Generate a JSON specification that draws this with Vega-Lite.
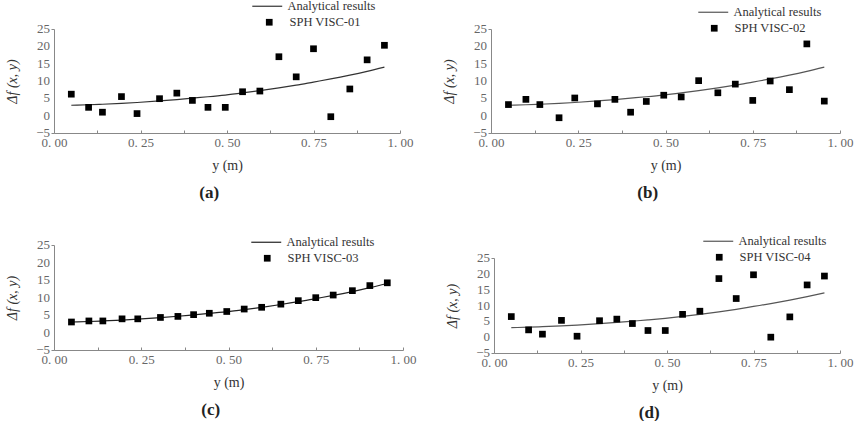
{
  "$schema": "https://vega.github.io/schema/vega-lite/v6.json",
  "background": "white",
  "padding": {"left": 5, "top": 0, "right": 2, "bottom": 0},
  "datasets": {
    "ylab": [
      {"v": -5, "t": "−5"}, {"v": 0, "t": "0"}, {"v": 5, "t": "5"}, {"v": 10, "t": "10"},
      {"v": 15, "t": "15"}, {"v": 20, "t": "20"}, {"v": 25, "t": "25"}
    ],
    "analytic": [
      {"x": 0.05, "f": 3.0}, {"x": 0.1, "f": 3.15}, {"x": 0.14, "f": 3.3}, {"x": 0.195, "f": 3.55},
      {"x": 0.24, "f": 3.8}, {"x": 0.305, "f": 4.25}, {"x": 0.355, "f": 4.65}, {"x": 0.4, "f": 5.05},
      {"x": 0.445, "f": 5.45}, {"x": 0.495, "f": 5.95}, {"x": 0.545, "f": 6.55}, {"x": 0.595, "f": 7.2},
      {"x": 0.65, "f": 8.0}, {"x": 0.7, "f": 8.8}, {"x": 0.75, "f": 9.7}, {"x": 0.8, "f": 10.6},
      {"x": 0.855, "f": 11.7}, {"x": 0.905, "f": 12.8}, {"x": 0.955, "f": 14.0}
    ],
    "sph": [
      {"panel": "a", "x": 0.05, "f": 6.2}, {"panel": "a", "x": 0.1, "f": 2.4}, {"panel": "a", "x": 0.14, "f": 1.0},
      {"panel": "a", "x": 0.195, "f": 5.5}, {"panel": "a", "x": 0.24, "f": 0.6}, {"panel": "a", "x": 0.305, "f": 4.9},
      {"panel": "a", "x": 0.355, "f": 6.5}, {"panel": "a", "x": 0.4, "f": 4.4}, {"panel": "a", "x": 0.445, "f": 2.4},
      {"panel": "a", "x": 0.495, "f": 2.4}, {"panel": "a", "x": 0.545, "f": 6.9}, {"panel": "a", "x": 0.595, "f": 7.1},
      {"panel": "a", "x": 0.65, "f": 17.0}, {"panel": "a", "x": 0.7, "f": 11.2}, {"panel": "a", "x": 0.75, "f": 19.3},
      {"panel": "a", "x": 0.8, "f": -0.3}, {"panel": "a", "x": 0.855, "f": 7.7}, {"panel": "a", "x": 0.905, "f": 16.1},
      {"panel": "a", "x": 0.955, "f": 20.3},
      {"panel": "b", "x": 0.05, "f": 3.2}, {"panel": "b", "x": 0.1, "f": 4.7}, {"panel": "b", "x": 0.14, "f": 3.2},
      {"panel": "b", "x": 0.195, "f": -0.6}, {"panel": "b", "x": 0.24, "f": 5.1}, {"panel": "b", "x": 0.305, "f": 3.4},
      {"panel": "b", "x": 0.355, "f": 4.7}, {"panel": "b", "x": 0.4, "f": 1.0}, {"panel": "b", "x": 0.445, "f": 4.1},
      {"panel": "b", "x": 0.495, "f": 5.9}, {"panel": "b", "x": 0.545, "f": 5.4}, {"panel": "b", "x": 0.595, "f": 10.1},
      {"panel": "b", "x": 0.65, "f": 6.6}, {"panel": "b", "x": 0.7, "f": 9.1}, {"panel": "b", "x": 0.75, "f": 4.4},
      {"panel": "b", "x": 0.8, "f": 10.0}, {"panel": "b", "x": 0.855, "f": 7.5}, {"panel": "b", "x": 0.905, "f": 20.7},
      {"panel": "b", "x": 0.955, "f": 4.2},
      {"panel": "c", "x": 0.05, "f": 3.0}, {"panel": "c", "x": 0.1, "f": 3.3}, {"panel": "c", "x": 0.14, "f": 3.3},
      {"panel": "c", "x": 0.195, "f": 3.9}, {"panel": "c", "x": 0.24, "f": 3.9}, {"panel": "c", "x": 0.305, "f": 4.3},
      {"panel": "c", "x": 0.355, "f": 4.6}, {"panel": "c", "x": 0.4, "f": 5.1}, {"panel": "c", "x": 0.445, "f": 5.5},
      {"panel": "c", "x": 0.495, "f": 6.0}, {"panel": "c", "x": 0.545, "f": 6.7}, {"panel": "c", "x": 0.595, "f": 7.2},
      {"panel": "c", "x": 0.65, "f": 8.1}, {"panel": "c", "x": 0.7, "f": 9.1}, {"panel": "c", "x": 0.75, "f": 9.95},
      {"panel": "c", "x": 0.8, "f": 10.7}, {"panel": "c", "x": 0.855, "f": 11.95}, {"panel": "c", "x": 0.905, "f": 13.4},
      {"panel": "c", "x": 0.955, "f": 14.2},
      {"panel": "d", "x": 0.05, "f": 6.5}, {"panel": "d", "x": 0.1, "f": 2.3}, {"panel": "d", "x": 0.14, "f": 0.95},
      {"panel": "d", "x": 0.195, "f": 5.3}, {"panel": "d", "x": 0.24, "f": 0.3}, {"panel": "d", "x": 0.305, "f": 5.2},
      {"panel": "d", "x": 0.355, "f": 5.7}, {"panel": "d", "x": 0.4, "f": 4.3}, {"panel": "d", "x": 0.445, "f": 2.1},
      {"panel": "d", "x": 0.495, "f": 2.1}, {"panel": "d", "x": 0.545, "f": 7.2}, {"panel": "d", "x": 0.595, "f": 8.2},
      {"panel": "d", "x": 0.65, "f": 18.5}, {"panel": "d", "x": 0.7, "f": 12.2}, {"panel": "d", "x": 0.75, "f": 19.7},
      {"panel": "d", "x": 0.8, "f": 0.0}, {"panel": "d", "x": 0.855, "f": 6.4}, {"panel": "d", "x": 0.905, "f": 16.5},
      {"panel": "d", "x": 0.955, "f": 19.3}
    ]
  },
  "config": {
    "view": {"stroke": null},
    "font": "Liberation Serif",
    "axis": {
      "grid": false,
      "labelFont": "Liberation Serif",
      "labelFontSize": 13,
      "labelColor": "#666",
      "labelFlush": false,
      "titleFont": "Liberation Serif",
      "titleFontSize": 14,
      "titleFontWeight": "normal",
      "titleColor": "#333",
      "domainColor": "#888",
      "tickColor": "#888"
    },
    "axisX": {"labelPadding": 6, "titlePadding": 9},
    "axisY": {"labels": false, "titlePadding": 31},
    "legend": {
      "labelFont": "Liberation Serif",
      "labelFontSize": 12.5,
      "labelColor": "#333",
      "padding": 0,
      "title": null,
      "labelOffset": 14
    },
    "text": {"font": "Liberation Serif", "fontSize": 13, "color": "#666", "align": "right", "baseline": "middle", "dx": -4},
    "title": {"font": "Liberation Serif", "fontSize": 17, "color": "#222"}
  },
  "vconcat": [
    {
      "hconcat": [
        {
          "width": 346, "height": 104,
          "title": {"text": "(a)", "orient": "bottom", "anchor": "middle", "frame": "bounds", "fontWeight": "bold", "offset": 13},
          "layer": [
            {
              "data": {"name": "analytic"},
              "mark": {"type": "line", "strokeWidth": 1.2, "interpolate": "monotone"},
              "encoding": {
                "x": {"field": "x", "type": "quantitative", "scale": {"domain": [0, 1]},
                  "axis": {"title": "y (m)", "labelFlush": false, "values": [0, 0.125, 0.25, 0.375, 0.5, 0.625, 0.75, 0.875, 1], "tickSize": -3,
                    "labelExpr": "(round(datum.value*8) % 2 == 0) ? replace(format(datum.value, '.2f'), '.', '. ') : ''"}},
                "y": {"field": "f", "type": "quantitative", "scale": {"domain": [-5, 25], "nice": false},
                  "axis": {"title": "Δf (x, y)", "titleFontStyle": "italic", "labels": false, "values": [-5, -2.5, 0, 2.5, 5, 7.5, 10, 12.5, 15, 17.5, 20, 22.5, 25],
                    "tickSize": {"condition": {"test": "datum.value % 5 == 0", "value": 3}, "value": -2}}},
                "stroke": {"datum": "Analytical results", "type": "nominal", "scale": {"range": ["#333"]},
                  "legend": {"orient": "none", "legendX": 207, "legendY": -29, "symbolType": "M-4,0H4", "symbolSize": 56, "symbolStrokeWidth": 1.2}}
              }
            },
            {
              "data": {"name": "sph"},
              "transform": [{"filter": "datum.panel == 'a'"}],
              "mark": {"type": "point", "shape": "square", "filled": true, "size": 45, "opacity": 1, "color": "black"},
              "encoding": {
                "x": {"field": "x", "type": "quantitative"},
                "y": {"field": "f", "type": "quantitative"},
                "shape": {"datum": "SPH VISC-01", "type": "nominal", "scale": {"range": ["square"]},
                  "legend": {"orient": "none", "legendX": 209, "legendY": -13, "symbolSize": 45, "symbolFillColor": "black", "symbolStrokeWidth": 0}}
              }
            },
            {
              "data": {"name": "ylab"},
              "mark": {"type": "text"},
              "encoding": {
                "x": {"datum": 0, "type": "quantitative"},
                "y": {"field": "v", "type": "quantitative"},
                "text": {"field": "t"}
              }
            }
          ]
        },
        {
          "width": 349, "height": 104,
          "title": {"text": "(b)", "orient": "bottom", "anchor": "middle", "frame": "bounds", "fontWeight": "bold", "offset": 13},
          "layer": [
            {
              "data": {"name": "analytic"},
              "mark": {"type": "line", "strokeWidth": 1.2, "interpolate": "monotone"},
              "encoding": {
                "x": {"field": "x", "type": "quantitative", "scale": {"domain": [0, 1]},
                  "axis": {"title": "y (m)", "labelFlush": false, "values": [0, 0.125, 0.25, 0.375, 0.5, 0.625, 0.75, 0.875, 1], "tickSize": -3,
                    "labelExpr": "(round(datum.value*8) % 2 == 0) ? replace(format(datum.value, '.2f'), '.', '. ') : ''"}},
                "y": {"field": "f", "type": "quantitative", "scale": {"domain": [-5, 25], "nice": false},
                  "axis": {"title": "Δf (x, y)", "titleFontStyle": "italic", "labels": false, "values": [-5, -2.5, 0, 2.5, 5, 7.5, 10, 12.5, 15, 17.5, 20, 22.5, 25],
                    "tickSize": {"condition": {"test": "datum.value % 5 == 0", "value": 3}, "value": -2}}},
                "stroke": {"datum": "Analytical results", "type": "nominal", "scale": {"range": ["#555"]},
                  "legend": {"orient": "none", "legendX": 216, "legendY": -23, "symbolType": "M-4,0H4", "symbolSize": 56, "symbolStrokeWidth": 1.2}}
              }
            },
            {
              "data": {"name": "sph"},
              "transform": [{"filter": "datum.panel == 'b'"}],
              "mark": {"type": "point", "shape": "square", "filled": true, "size": 45, "opacity": 1, "color": "black"},
              "encoding": {
                "x": {"field": "x", "type": "quantitative"},
                "y": {"field": "f", "type": "quantitative"},
                "shape": {"datum": "SPH VISC-02", "type": "nominal", "scale": {"range": ["square"]},
                  "legend": {"orient": "none", "legendX": 217, "legendY": -7, "symbolSize": 45, "symbolFillColor": "black", "symbolStrokeWidth": 0}}
              }
            },
            {
              "data": {"name": "ylab"},
              "mark": {"type": "text"},
              "encoding": {
                "x": {"datum": 0, "type": "quantitative"},
                "y": {"field": "v", "type": "quantitative"},
                "text": {"field": "t"}
              }
            }
          ]
        }
      ],
      "spacing": 29,
      "resolve": {"scale": {"stroke": "independent", "shape": "independent"}, "legend": {"stroke": "independent", "shape": "independent"}}
    },
    {
      "hconcat": [
        {
          "width": 349, "height": 105,
          "title": {"text": "(c)", "orient": "bottom", "anchor": "middle", "frame": "bounds", "fontWeight": "bold", "offset": 13},
          "layer": [
            {
              "data": {"name": "analytic"},
              "mark": {"type": "line", "strokeWidth": 1.2, "interpolate": "monotone"},
              "encoding": {
                "x": {"field": "x", "type": "quantitative", "scale": {"domain": [0, 1]},
                  "axis": {"title": "y (m)", "labelFlush": false, "values": [0, 0.125, 0.25, 0.375, 0.5, 0.625, 0.75, 0.875, 1], "tickSize": -3,
                    "labelExpr": "(round(datum.value*8) % 2 == 0) ? replace(format(datum.value, '.2f'), '.', '. ') : ''"}},
                "y": {"field": "f", "type": "quantitative", "scale": {"domain": [-5, 25], "nice": false},
                  "axis": {"title": "Δf (x, y)", "titleFontStyle": "italic", "labels": false, "values": [-5, -2.5, 0, 2.5, 5, 7.5, 10, 12.5, 15, 17.5, 20, 22.5, 25],
                    "tickSize": {"condition": {"test": "datum.value % 5 == 0", "value": 3}, "value": -2}}},
                "stroke": {"datum": "Analytical results", "type": "nominal", "scale": {"range": ["#222"]},
                  "legend": {"orient": "none", "legendX": 206, "legendY": -9, "symbolType": "M-4,0H4", "symbolSize": 56, "symbolStrokeWidth": 1.2}}
              }
            },
            {
              "data": {"name": "sph"},
              "transform": [{"filter": "datum.panel == 'c'"}],
              "mark": {"type": "point", "shape": "square", "filled": true, "size": 45, "opacity": 1, "color": "black"},
              "encoding": {
                "x": {"field": "x", "type": "quantitative"},
                "y": {"field": "f", "type": "quantitative"},
                "shape": {"datum": "SPH VISC-03", "type": "nominal", "scale": {"range": ["square"]},
                  "legend": {"orient": "none", "legendX": 207, "legendY": 7, "symbolSize": 45, "symbolFillColor": "black", "symbolStrokeWidth": 0}}
              }
            },
            {
              "data": {"name": "ylab"},
              "mark": {"type": "text"},
              "encoding": {
                "x": {"datum": 0, "type": "quantitative"},
                "y": {"field": "v", "type": "quantitative"},
                "text": {"field": "t"}
              }
            }
          ]
        },
        {
          "width": 346, "height": 108,
          "title": {"text": "(d)", "orient": "bottom", "anchor": "middle", "frame": "bounds", "fontWeight": "bold", "offset": 13},
          "layer": [
            {
              "data": {"name": "analytic"},
              "mark": {"type": "line", "strokeWidth": 1.2, "interpolate": "monotone"},
              "encoding": {
                "x": {"field": "x", "type": "quantitative", "scale": {"domain": [0, 1]},
                  "axis": {"title": "y (m)", "labelFlush": false, "values": [0, 0.125, 0.25, 0.375, 0.5, 0.625, 0.75, 0.875, 1], "tickSize": -3,
                    "labelExpr": "(round(datum.value*8) % 2 == 0) ? replace(format(datum.value, '.2f'), '.', '. ') : ''"}},
                "y": {"field": "f", "type": "quantitative", "scale": {"domain": [-5, 25], "nice": false, "range": [108, 13]},
                  "axis": {"title": "Δf (x, y)", "titleFontStyle": "italic", "labels": false, "values": [-5, -2.5, 0, 2.5, 5, 7.5, 10, 12.5, 15, 17.5, 20, 22.5, 25],
                    "tickSize": {"condition": {"test": "datum.value % 5 == 0", "value": 3}, "value": -2}}},
                "stroke": {"datum": "Analytical results", "type": "nominal", "scale": {"range": ["#555"]},
                  "legend": {"orient": "none", "legendX": 218, "legendY": -10, "symbolType": "M-4,0H4", "symbolSize": 56, "symbolStrokeWidth": 1.2}}
              }
            },
            {
              "data": {"name": "sph"},
              "transform": [{"filter": "datum.panel == 'd'"}],
              "mark": {"type": "point", "shape": "square", "filled": true, "size": 45, "opacity": 1, "color": "black"},
              "encoding": {
                "x": {"field": "x", "type": "quantitative"},
                "y": {"field": "f", "type": "quantitative"},
                "shape": {"datum": "SPH VISC-04", "type": "nominal", "scale": {"range": ["square"]},
                  "legend": {"orient": "none", "legendX": 219, "legendY": 6, "symbolSize": 45, "symbolFillColor": "black", "symbolStrokeWidth": 0}}
              }
            },
            {
              "data": {"name": "ylab"},
              "mark": {"type": "text"},
              "encoding": {
                "x": {"datum": 0, "type": "quantitative"},
                "y": {"field": "v", "type": "quantitative"},
                "text": {"field": "t"}
              }
            }
          ]
        }
      ],
      "spacing": 29,
      "resolve": {"scale": {"stroke": "independent", "shape": "independent"}, "legend": {"stroke": "independent", "shape": "independent"}}
    }
  ],
  "spacing": 34,
  "resolve": {"scale": {"stroke": "independent", "shape": "independent"}, "legend": {"stroke": "independent", "shape": "independent"}}
}
